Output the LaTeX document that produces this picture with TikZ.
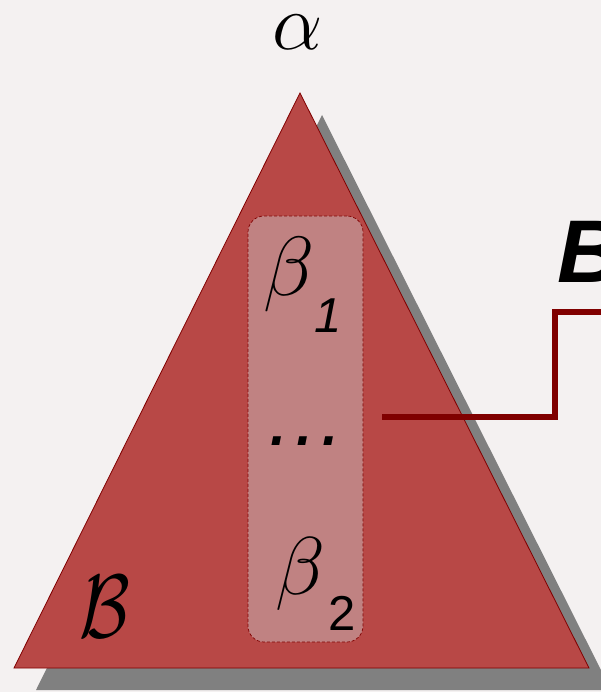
\RequirePackage{fix-cm}
\documentclass[tikz,border=0pt]{standalone}
\usepackage{fontspec}
\setsansfont{Liberation Sans}
\definecolor{paper}{HTML}{F4F1F1}
\definecolor{brick}{HTML}{B84846}
\definecolor{rose}{HTML}{C08282}
\definecolor{maroon}{HTML}{800000}
\tikzstyle{tree}=[fill=brick,draw=maroon,line width=0.8pt]
\tikzstyle{treeshadow}=[fill=black!50]
\tikzstyle{members}=[
    draw=maroon,fill=rose,dash pattern=on 3pt off 2pt,line width=0.7pt,
    rounded corners=16pt,minimum width=115pt,minimum height=426pt
    ]
\tikzstyle{link}=[draw=maroon,line width=6pt]
\tikzstyle{letter}=[inner sep=0pt,anchor=base west]
\newcommand{\subname}[3]{$\beta$\kern#1\raisebox{-#2}{\fontsize{49}{49}\sffamily #3}}

\begin{document}
\begin{tikzpicture}[
x=1pt,y=-1pt
]
\useasboundingbox (0,0) rectangle (601,692);
\clip (0,0) rectangle (601,692);
\fill[paper] (0,0) rectangle (601,692);
%triangle and its shadow
\coordinate (top) at (300,93);
\coordinate (left) at (14,668);
\coordinate (right) at (589,668);
\path[treeshadow] ([shift={(22,22)}]top) -- ([shift={(22,22)}]left) -- ([shift={(22,22)}]right) -- cycle;
\path[tree] (top) -- (left) -- (right) -- cycle;
%set of subtrees
\node[members] (set) at (305.5,429) {};
\node[letter] (b1) at (263,295) {\fontsize{84}{84}\selectfont\subname{0pt}{37pt}{\itshape 1}};
\node[letter] (dots) at (264,445) {\fontsize{82}{82}\selectfont\sffamily\itshape …};
\node[letter] (b2) at (275,594) {\fontsize{82}{82}\selectfont\subname{3pt}{36pt}{2}};
%labels
\node[inner sep=0pt,anchor=base] (root) at (298,50) {\fontsize{80}{80}\selectfont$\alpha$};
\node[letter] (tree) at (79,637) {\fontsize{90}{90}\selectfont\scalebox{0.82}[1]{$\mathcal{B}$}};
\node[letter] (name) at (557,282) {\fontsize{89}{89}\selectfont\sffamily\bfseries\itshape B};
%link to the name
\coordinate (from) at (382,417);
\coordinate (bend) at (555,312);
\coordinate (to) at (620,312);
\draw[link] (from) -| (bend) -- (to);
\end{tikzpicture}
\end{document}
